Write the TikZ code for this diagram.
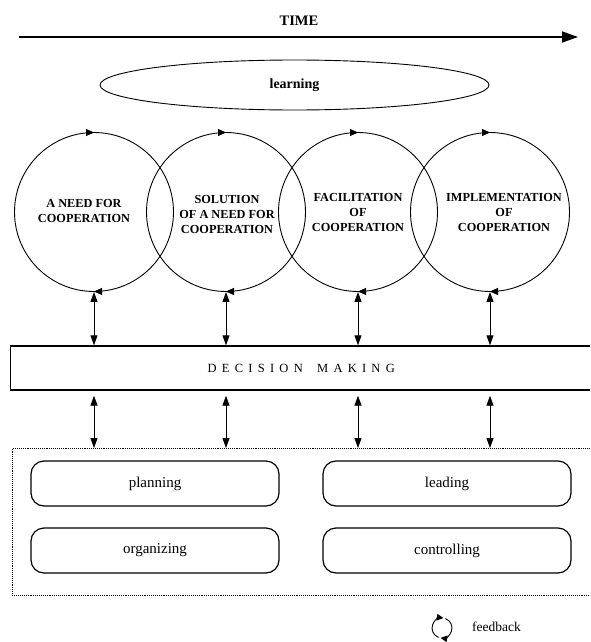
\documentclass[tikz,border=0pt]{standalone}
\usepackage{fontspec}
\setmainfont{Liberation Serif}
\usetikzlibrary{arrows.meta,decorations.markings,shapes.geometric}

\tikzset{
  phase/.style={circle, draw, line width=0.9pt, minimum size=159pt, inner sep=0pt,
    postaction={decorate},
    decoration={markings,
      mark=at position 0.25 with {\arrowreversed{Triangle[length=8pt,width=7pt]}},
      mark=at position 0.75 with {\arrowreversed{Triangle[length=8pt,width=7pt]}}}},
  phasetext/.style={align=center, inner sep=0pt, font=\fontsize{12.3}{15}\selectfont\bfseries},
  dblarrow/.style={line width=0.9pt, {Triangle[length=10pt,width=7pt]}-{Triangle[length=10pt,width=7pt]}},
  func/.style={draw, rounded corners=13pt, line width=1.2pt, minimum width=248pt, minimum height=45pt, inner sep=0pt,
    font=\fontsize{15}{18}\selectfont},
}

\begin{document}
\begin{tikzpicture}[x=1pt,y=-1pt]
\clip (0,0) rectangle (590,642);

% time axis
\coordinate (t0) at (19,37);
\coordinate (t1) at (578,37);
\draw[line width=1.4pt, -{Triangle[length=16pt,width=11pt]}] (t0) -- (t1);
\node[font=\fontsize{14.5}{16}\selectfont\bfseries, inner sep=0pt] (time) at (299,21) {TIME};

% learning
\node[ellipse, draw, line width=0.9pt, minimum width=389pt, minimum height=50pt, inner sep=0pt,
      font=\fontsize{14}{16}\selectfont\bfseries] (learn) at (294.5,85) {learning};

% phases
\node[phase] (c1) at (94,212) {};
\node[phase] (c2) at (226,212) {};
\node[phase] (c3) at (358,212) {};
\node[phase] (c4) at (490,212) {};
\node[phasetext] (p1) at (84,211) {A NEED FOR\\COOPERATION};
\node[phasetext] (p2) at (227,214.5) {SOLUTION\\OF A NEED FOR\\COOPERATION};
\node[phasetext] (p3) at (358,212) {FACILITATION\\OF\\COOPERATION};
\node[phasetext] (p4) at (504,212) {IMPLEMENTATION\\OF\\COOPERATION};

% decision making
\node[draw, line width=1.4pt, minimum width=581.5pt, minimum height=44pt, inner sep=0pt,
      font=\fontsize{12.5}{15}\selectfont\addfontfeature{LetterSpace=42}] (dm) at (301.25,368) {DECISION\hspace{6pt} MAKING};

% functions frame
\node[draw, densely dotted, line width=0.9pt, minimum width=580pt, minimum height=147pt, inner sep=0pt,
      anchor=north west] (frame) at (12,448) {};

\node[func] (plan) at (155,483.5) {planning};
\node[func] (lead) at (447,483.5) {leading};
\node[func] (org) at (155,550.5) {organizing};
\node[func] (ctrl) at (447,550.5) {controlling};

% arrows
\foreach \c in {c1,c2,c3,c4}{
  \draw[dblarrow] (\c.south) -- (\c.south |- dm.north);
  \draw[dblarrow] ([yshift=-5pt]\c.south |- dm.south) -- (\c.south |- frame.north);
}

% feedback legend
\coordinate (fbc) at (442,628);
\draw[line width=0.9pt, -{Triangle[length=6.5pt,width=6.5pt]}] ([shift={(250:10pt)}]fbc) arc (250:82:10pt);
\draw[line width=0.9pt, -{Triangle[length=6.5pt,width=6.5pt]}] ([shift={(70:10pt)}]fbc) arc (70:-98:10pt);
\node[anchor=west, inner sep=0pt, font=\fontsize{13.5}{16}\selectfont] (fb) at (472,627) {feedback};
\end{tikzpicture}
\end{document}
